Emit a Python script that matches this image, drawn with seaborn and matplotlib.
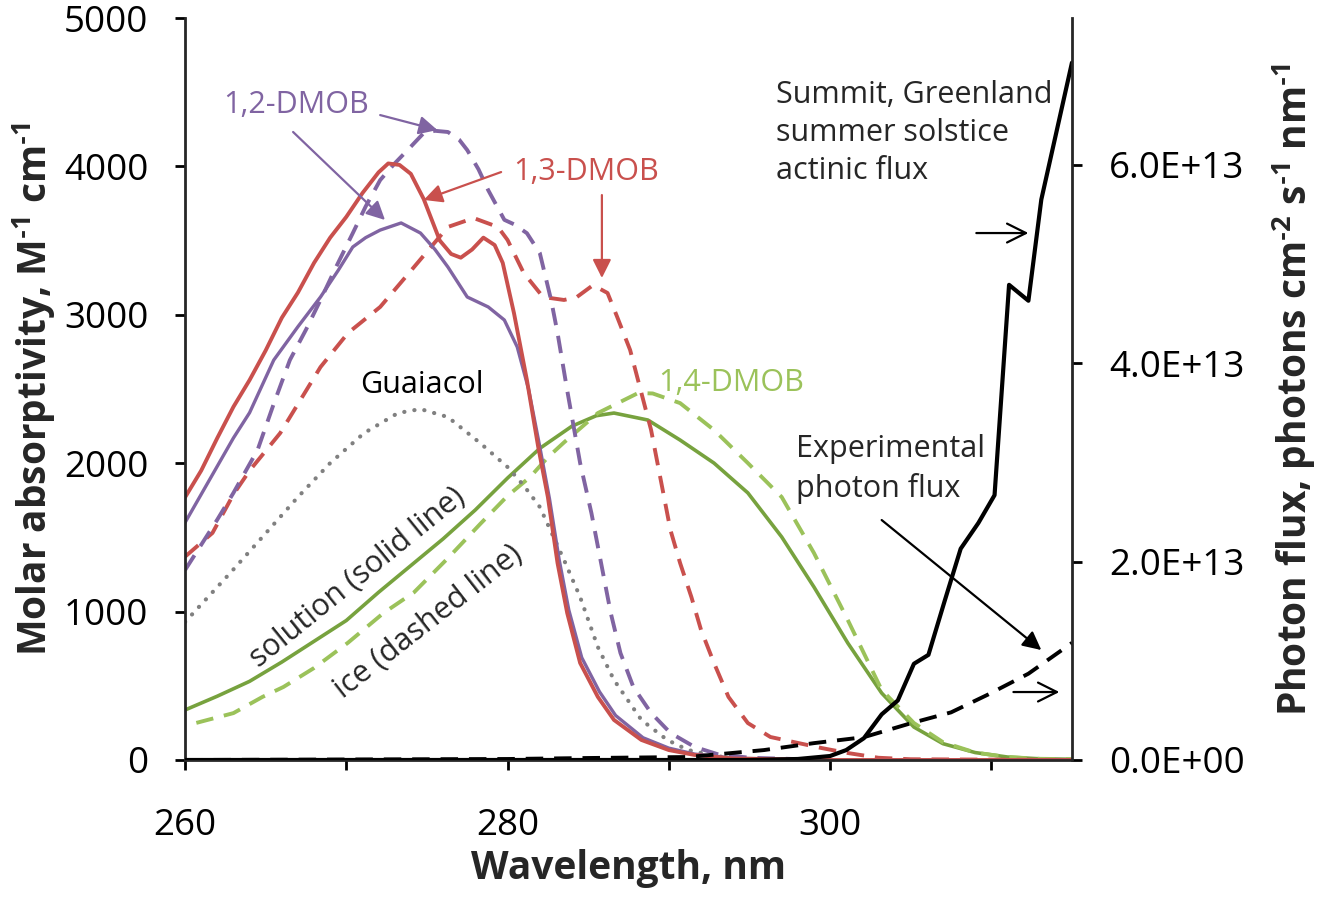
import matplotlib
matplotlib.use("Agg")
import matplotlib.pyplot as plt
import matplotlib.ticker as mticker
import seaborn as sns

# 1,3-DMOB solution (solid red)
dmob13_sol_x = [260, 261, 262, 263, 264, 265, 266, 267, 268, 269, 270, 271, 272, 272.6, 273.3, 274, 274.8,
                275.8, 276.5, 277.1, 277.8, 278.5, 279.2, 279.7, 280.4, 281.2, 281.9, 282.5, 283.1, 283.7,
                284.5, 285.6, 286.6, 288.3, 290, 291.6, 294, 300, 315]
dmob13_sol_y = [1770, 1950, 2170, 2380, 2560, 2760, 2980, 3150, 3350, 3520, 3660, 3820, 3960, 4020, 4010, 3950, 3780,
                3500, 3410, 3385, 3440, 3520, 3470, 3350, 3010, 2560, 2110, 1772, 1327, 990,
                654, 425, 270, 135, 67, 34, 10, 0, 0]

# 1,3-DMOB ice (dashed red)
dmob13_ice_x = [260, 261.7, 263, 264, 265.9, 268.4, 270.1, 272.1, 274.2, 276.3, 277.9, 279.4, 280, 281, 282.2,
                283.5, 284.3, 285.3, 286.2, 286.8, 287.6, 288.3, 288.9, 289.5, 290.1, 290.7, 291.4, 292, 292.8,
                293.7, 294.9, 296.3, 298, 299.5, 301.1, 303, 305, 315]
dmob13_ice_y = [1370, 1530, 1790, 1950, 2203, 2648, 2877, 3053, 3322, 3592, 3652, 3592, 3504, 3282, 3120,
                3100, 3120, 3200, 3147, 2985, 2763, 2473, 2224, 1887, 1550, 1327, 1098, 876, 654,
                425, 249, 155, 115, 80, 47, 15, 5, 0]

# 1,2-DMOB solution (solid purple)
dmob12_sol_x = [260, 261, 262, 263, 264, 265.5, 267, 268.4, 269.5, 270.4, 271.2, 272.1, 273.4, 274.6, 275.5,
                276.3, 277.5, 278.8, 279.8, 280.6, 281.3, 282, 282.6, 283.2, 283.8, 284.6, 285.7, 286.7, 288.4,
                290, 291.6, 294, 300, 315]
dmob12_sol_y = [1600, 1790, 1980, 2170, 2340, 2695, 2920, 3120, 3300, 3457, 3520, 3571, 3619, 3551, 3440,
                3322, 3120, 3053, 2965, 2783, 2500, 2110, 1760, 1350, 1010, 690, 460, 300, 150,
                80, 40, 12, 0, 0]

# 1,2-DMOB ice (dashed purple)
dmob12_ice_x = [260, 261, 262, 263, 264.5, 265.5, 266.5, 267.5, 268.4, 269.4, 270.4, 271.2, 272.1, 273, 273.8,
                274.8, 275.5, 276.3, 277, 277.5, 278.2, 278.8, 279.8, 280.4, 281.2, 282, 282.7, 283.1, 283.7,
                284.5, 285.2, 285.8, 286.4, 287, 287.8, 288.9, 290.1, 291.6, 293, 295, 300, 315]
dmob12_ice_y = [1280, 1450, 1620, 1800, 2090, 2400, 2695, 2900, 3100, 3330, 3550, 3730, 3908, 4020, 4110,
                4225, 4240, 4232, 4180, 4110, 3980, 3840, 3640, 3610, 3550, 3416, 3100, 2877, 2490,
                2001, 1664, 1327, 990, 721, 492, 317, 182, 88, 40, 15, 0, 0]

# Guaiacol (dotted grey)
guaiacol_x = [260, 262.8, 264.8, 267, 269, 271.1, 273.2, 274.6, 276.3, 278.3, 280, 281, 282, 283.5, 284.5,
              285.6, 286.6, 288.3, 289.9, 291.2, 293, 295, 300]
guaiacol_y = [930, 1260, 1503, 1772, 2001, 2203, 2338, 2365, 2311, 2136, 1974, 1850, 1705, 1348, 1098,
              761, 539, 270, 135, 67, 25, 5, 0]

# 1,4-DMOB solution (solid green)
dmob14_sol_x = [260, 262, 264, 266, 268, 270, 272, 274, 276, 278, 280, 282, 284, 285.5, 286.6, 288.7, 290.7,
                292.8, 294.9, 297, 299, 301.1, 303.2, 305.2, 307, 309, 311, 313, 315]
dmob14_sol_y = [337, 430, 530, 660, 800, 940, 1130, 1310, 1490, 1685, 1900, 2100, 2250, 2320, 2338, 2291, 2156,
                2001, 1800, 1503, 1166, 788, 451, 222, 110, 50, 20, 8, 5]

# 1,4-DMOB ice (dashed green)
dmob14_ice_x = [260.7, 263, 264.8, 266.1, 268, 270.1, 272.3, 274.2, 276.3, 278.3, 280, 281.4, 282.5, 283.5,
                285.6, 288.1, 289, 290.7, 292.8, 294.9, 297, 299, 301.1, 303.2, 305.2, 307, 309, 311, 313, 315]
dmob14_ice_y = [250, 316, 425, 492, 620, 790, 990, 1130, 1360, 1590, 1780, 1907, 2040, 2140,
                2338, 2473, 2470, 2405, 2224, 2001, 1772, 1395, 943, 472, 249, 120, 50, 20, 8, 5]

# photon fluxes, units of 1e13 photons cm-2 s-1 nm-1
summit_x = [260, 295, 298, 300, 301, 302.1, 303.2, 304.2, 305.2, 306.1, 307.1, 308.1, 309.2, 310.2, 311.1,
            312.3, 313.1, 315]
summit_y = [0, 0, 0.01, 0.04, 0.1, 0.22, 0.46, 0.60, 0.97, 1.06, 1.60, 2.13, 2.39, 2.67, 4.79,
            4.63, 5.65, 7.03]
exper_x = [260, 270, 280, 285, 291.2, 295.9, 299, 302.1, 305, 307.5, 309.8, 312.3, 315]
exper_y = [0.0, 0.005, 0.01, 0.02, 0.03, 0.10, 0.17, 0.23, 0.37, 0.48, 0.66, 0.87, 1.18]

RED = "#C9504D"
PURPLE = "#8064A2"
GREEN_DARK = "#77A23E"
GREEN_LIGHT = "#9BC25A"
GREY = "#808080"

sns.set_style("ticks")
plt.rcParams["font.family"] = ["Open Sans", "DejaVu Sans"]
plt.rcParams["mathtext.fontset"] = "custom"
plt.rcParams["mathtext.rm"] = "Open Sans"
plt.rcParams["mathtext.bf"] = "Open Sans:bold"

fig = plt.figure(figsize=(13.19, 9.01), dpi=100)
ax = fig.add_axes([0.1403, 0.1565, 0.6724, 0.8235])
ax2 = ax.twinx()

dash = (0, (4.5, 2.8))
sns.lineplot(x=dmob14_sol_x, y=dmob14_sol_y, ax=ax, color=GREEN_DARK, lw=2.6)
sns.lineplot(x=dmob14_ice_x, y=dmob14_ice_y, ax=ax, color=GREEN_LIGHT, lw=2.8, linestyle=dash)
sns.lineplot(x=guaiacol_x, y=guaiacol_y, ax=ax, color=GREY, lw=3, linestyle=(0, (0.05, 2.4)),
             dash_capstyle="round")
sns.lineplot(x=dmob13_ice_x, y=dmob13_ice_y, ax=ax, color=RED, lw=2.8, linestyle=dash)
sns.lineplot(x=dmob12_ice_x, y=dmob12_ice_y, ax=ax, color=PURPLE, lw=2.8, linestyle=dash)
sns.lineplot(x=dmob12_sol_x, y=dmob12_sol_y, ax=ax, color=PURPLE, lw=2.4)
sns.lineplot(x=dmob13_sol_x, y=dmob13_sol_y, ax=ax, color=RED, lw=2.8)

sns.lineplot(x=summit_x, y=[v * 1e13 for v in summit_y], ax=ax2, color="black", lw=3)
sns.lineplot(x=exper_x, y=[v * 1e13 for v in exper_y], ax=ax2, color="black", lw=2.8, linestyle=dash)

ax.set_xlim(260, 315)
ax.set_ylim(0, 5000)
ax2.set_ylim(0, 7.48e13)
ax.set_xticks([260, 270, 280, 290, 300, 310])
ax.set_xticklabels(["260", "", "280", "", "300", ""])
ax.set_yticks([0, 1000, 2000, 3000, 4000, 5000])
ax2.set_yticks([0, 2e13, 4e13, 6e13])
ax2.yaxis.set_major_formatter(mticker.FuncFormatter(lambda v, p: "{:.1E}".format(v)))

for a in (ax, ax2):
    a.spines["top"].set_visible(False)
    for s in ("left", "right", "bottom"):
        a.spines[s].set_linewidth(2)
    a.tick_params(width=2, length=7.5, labelsize=26.5, direction="out", colors="black", pad=19)
ax.spines["right"].set_visible(False)
ax2.spines["left"].set_visible(False)
ax2.spines["bottom"].set_visible(False)
ax.tick_params(axis="x", pad=27)

hy = "\u2010"
ax.set_xlabel("Wavelength, nm", fontsize=28, fontweight="bold", labelpad=4)
ax.set_ylabel("Molar absorptivity, M$^{\\mathbf{" + hy + "1}}$ cm$^{\\mathbf{" + hy + "1}}$", fontsize=28,
              fontweight="bold", labelpad=4)
ax2.set_ylabel("Photon flux, photons cm$^{\\mathbf{" + hy + "2}}$ s$^{\\mathbf{" + hy + "1}}$ nm$^{\\mathbf{"
               + hy + "1}}$", fontsize=28, fontweight="bold", labelpad=19)

fs = 22
head = dict(arrowstyle="-|>", lw=1.6, mutation_scale=28, shrinkA=0, shrinkB=0)
ax.text(266.9, 4414, "1,2-DMOB", color=PURPLE, fontsize=fs, ha="center", va="center")
ax.annotate("", xy=(275.65, 4245), xytext=(272.1, 4346), arrowprops=dict(head, color=PURPLE))
ax.annotate("", xy=(272.4, 3639), xytext=(266.7, 4232), arrowprops=dict(head, color=PURPLE))
ax.text(284.85, 3962, "1,3-DMOB", color=RED, fontsize=fs, ha="center", va="center")
ax.annotate("", xy=(274.8, 3774), xytext=(279.6, 3962), arrowprops=dict(head, color=RED))
ax.annotate("", xy=(285.85, 3248), xytext=(285.85, 3807), arrowprops=dict(head, color=RED))
ax.text(274.7, 2527, "Guaiacol", color="black", fontsize=fs, ha="center", va="center")
ax.text(293.85, 2540, "1,4-DMOB", color=GREEN_LIGHT, fontsize=fs, ha="center", va="center")
ax.text(270.7, 1226, "solution (solid line)", fontsize=fs, ha="center", va="center", rotation=39,
        rotation_mode="anchor")
ax.text(275.1, 930, "ice (dashed line)", fontsize=fs, ha="center", va="center", rotation=38,
        rotation_mode="anchor")
ax.text(297.9, 1961, "Experimental\nphoton flux", fontsize=fs, ha="left", va="center", linespacing=1.35)
ax.annotate("", xy=(313.1, 741), xytext=(303.2, 1617), arrowprops=dict(head, color="black"))
ax.text(296.65, 4225, "Summit, Greenland\nsummer solstice\nactinic flux", fontsize=fs, ha="left",
        va="center", linespacing=1.35)
opn = dict(arrowstyle="->", lw=1.6, mutation_scale=34, color="black", shrinkA=0, shrinkB=0)
ax.annotate("", xy=(312.3, 3551), xytext=(309.07, 3551), arrowprops=opn)
ax.annotate("", xy=(314.22, 458), xytext=(311.37, 458), arrowprops=opn)

fig.savefig("out.png", dpi=100)
